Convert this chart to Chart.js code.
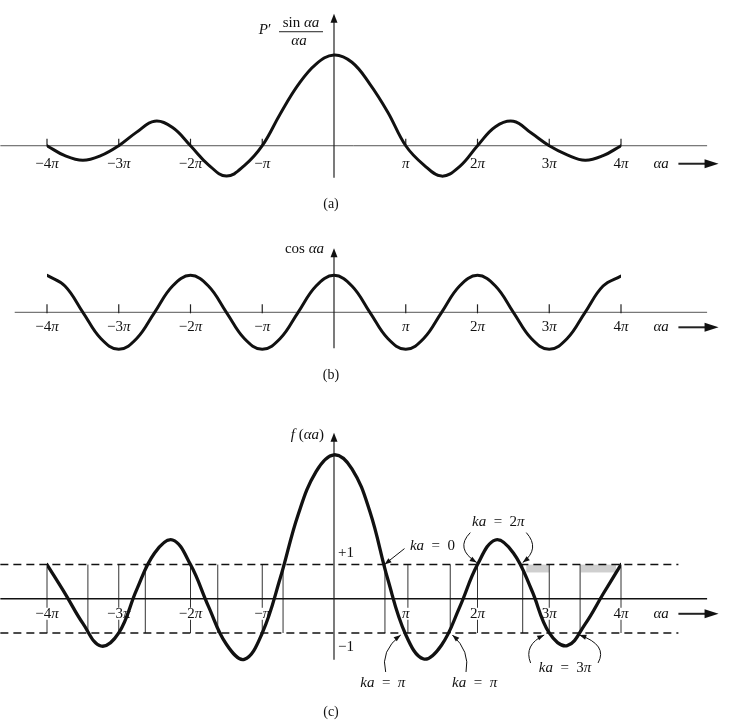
<!DOCTYPE html>
<html>
<head>
<meta charset="utf-8">
<script src="https://cdn.jsdelivr.net/npm/chart.js@4.4.0/dist/chart.umd.min.js"></script>
<style>
  html, body { margin: 0; padding: 0; background: #fff; }
  body { width: 732px; height: 724px; position: relative; overflow: hidden; }
  canvas { position: absolute; left: 0; }
</style>
</head>
<body>
<canvas id="chartA" width="732" height="222" style="top:0px"></canvas>
<canvas id="chartB" width="732" height="168" style="top:222px"></canvas>
<canvas id="chartC" width="732" height="324" style="top:400px"></canvas>
<script>
const PI = Math.PI;

// αa, in multiples of π
const alphaOverPi = [-4, -3.75, -3.5, -3.25, -3, -2.75, -2.5, -2.25, -2, -1.75, -1.5, -1.25, -1, -0.75, -0.5, -0.25, 0,
  0.25, 0.5, 0.75, 1, 1.25, 1.5, 1.75, 2, 2.25, 2.5, 2.75, 3, 3.25, 3.5, 3.75, 4];

// (a) P' sin(αa)/αa, as a fraction of P'
const sincTerm = [0, -0.11, -0.16, -0.11, 0, 0.15, 0.27, 0.2, 0, -0.21, -0.335, -0.22, 0, 0.35, 0.67, 0.9, 1,
  0.92, 0.68, 0.37, 0, -0.21, -0.335, -0.23, 0, 0.21, 0.27, 0.14, 0, -0.1, -0.16, -0.11, 0];

// (b) cos αa
const cosTerm = [1, 0.71, 0, -0.71, -1, -0.71, 0, 0.71, 1, 0.71, 0, -0.71, -1, -0.71, 0, 0.71, 1,
  0.71, 0, -0.71, -1, -0.71, 0, 0.71, 1, 0.71, 0, -0.71, -1, -0.71, 0, 0.71, 0.98];

// (c) f(αa)
const fTerm = [1, 0.16, -0.72, -1.38, -1, 0.27, 1.34, 1.72, 1, -0.22, -1.33, -1.77, -1, 0.6, 2.46, 3.72, 4.21,
  3.8, 2.55, 0.57, -1.05, -1.76, -1.35, -0.25, 1, 1.72, 1.34, 0.28, -1, -1.37, -0.74, 0.14, 1];

const tickAt = [-4, -3, -2, -1, 1, 2, 3, 4];
const tickText = ['−4π', '−3π', '−2π', '−π', 'π', '2π', '3π', '4π'];

// allowed bands (|f| <= 1), in multiples of π
const bandEdges = [[-4, -3.43], [-3, -2.63], [-2, -1.62], [-1, -0.71], [0.71, 1.03], [1.62, 2], [2.63, 3], [3.43, 4]];
const shadedBands = [[2.68, 3], [3.44, 3.93]];

const SERIF = '"Liberation Serif", "DejaVu Serif", serif';

function px(scale, t) { return scale.getPixelForValue(t * PI); }

function drawMath(ctx, text, x, y, size, align) {
  const parts = [];
  for (const ch of text) {
    const it = /[παakfP]/.test(ch);
    const last = parts[parts.length - 1];
    if (last && last.it === it) last.s += ch; else parts.push({ s: ch, it });
  }
  let w = 0;
  parts.forEach(p => {
    ctx.font = (p.it ? 'italic ' : '') + size + 'px ' + SERIF;
    p.w = ctx.measureText(p.s).width;
    w += p.w;
  });
  let cx = align === 'center' ? x - w / 2 : align === 'right' ? x - w : x;
  ctx.textAlign = 'left';
  ctx.textBaseline = 'middle';
  parts.forEach(p => {
    ctx.font = (p.it ? 'italic ' : '') + size + 'px ' + SERIF;
    ctx.fillText(p.s, cx, y);
    cx += p.w;
  });
  return w;
}

function arrowHead(ctx, x, y, ang, len, half) {
  ctx.beginPath();
  ctx.moveTo(x, y);
  ctx.lineTo(x - len * Math.cos(ang) - half * Math.sin(ang), y - len * Math.sin(ang) + half * Math.cos(ang));
  ctx.lineTo(x - len * Math.cos(ang) + half * Math.sin(ang), y - len * Math.sin(ang) - half * Math.cos(ang));
  ctx.closePath();
  ctx.fill();
}

function curl(ctx, sx, sy, cx, cy, ex, ey) {
  ctx.beginPath();
  ctx.moveTo(sx, sy);
  ctx.quadraticCurveTo(cx, cy, ex, ey);
  ctx.stroke();
  arrowHead(ctx, ex, ey, Math.atan2(ey - cy, ex - cx), 7, 2.6);
}

function panel(id, values, cfg) {
  const draw = {
    id: 'draw_' + id,
    beforeDatasetsDraw(chart) {
      const { ctx, scales: { x, y } } = chart;
      const x0 = x.getPixelForValue(0), y0 = y.getPixelForValue(0);
      ctx.save();
      ctx.fillStyle = '#111';
      ctx.strokeStyle = '#111';
      if (cfg.under) cfg.under(ctx, x, y);

      // horizontal axis
      ctx.strokeStyle = cfg.axisColor;
      ctx.lineWidth = cfg.axisWidth;
      ctx.beginPath();
      ctx.moveTo(px(x, cfg.axisSpan[0]), y0);
      ctx.lineTo(px(x, cfg.axisSpan[1]), y0);
      ctx.stroke();

      // vertical axis
      ctx.strokeStyle = '#222';
      ctx.fillStyle = '#111';
      ctx.lineWidth = 1.2;
      ctx.beginPath();
      ctx.moveTo(x0, y0 + cfg.yAxisDown);
      ctx.lineTo(x0, y0 - cfg.yAxisUp + 6);
      ctx.stroke();
      arrowHead(ctx, x0, y0 - cfg.yAxisUp, -PI / 2, 9, 3.5);

      // tick marks
      if (cfg.tickLen) {
        ctx.lineWidth = 1.2;
        tickAt.forEach(t => {
          ctx.beginPath();
          ctx.moveTo(px(x, t), y0 + 1);
          ctx.lineTo(px(x, t), y0 - cfg.tickLen);
          ctx.stroke();
        });
      }

      // tick labels
      tickAt.forEach((t, i) => {
        const lx = px(x, t), ly = y0 + cfg.labelDy;
        if (cfg.labelBg) {
          ctx.font = '15px ' + SERIF;
          const w = ctx.measureText(tickText[i]).width;
          ctx.fillStyle = '#fff';
          ctx.fillRect(lx - w / 2 - 1, ly - 6, w + 2, 12);
          ctx.fillStyle = '#111';
        }
        drawMath(ctx, tickText[i], lx, ly, 15, 'center');
      });

      // αa ──▶
      const ay = y0 + cfg.labelDy;
      drawMath(ctx, 'αa', px(x, 4.56), ay, 15, 'center');
      ctx.lineWidth = 2;
      ctx.beginPath();
      ctx.moveTo(px(x, 4.8), ay);
      ctx.lineTo(px(x, 5.2), ay);
      ctx.stroke();
      arrowHead(ctx, px(x, 5.36), ay, 0, 14, 4.5);

      // y label and panel caption
      cfg.yLabel(ctx, x0, y0);
      ctx.font = '14px ' + SERIF;
      ctx.textAlign = 'center';
      ctx.textBaseline = 'middle';
      ctx.fillText(cfg.caption, x0 - 3, y0 + cfg.captionDy);
      ctx.restore();
    },
    afterDatasetsDraw(chart) {
      if (!cfg.over) return;
      const { ctx, scales: { x, y } } = chart;
      ctx.save();
      ctx.fillStyle = '#111';
      ctx.strokeStyle = '#111';
      cfg.over(ctx, x, y);
      ctx.restore();
    }
  };

  return new Chart(document.getElementById(id), {
    type: 'line',
    data: {
      datasets: [{
        data: alphaOverPi.map((a, i) => ({ x: a * PI, y: values[i] })),
        borderColor: '#111',
        borderWidth: cfg.lineWidth,
        pointRadius: 0,
        tension: 0.4,
        borderCapStyle: 'round',
        borderJoinStyle: 'round',
        fill: false
      }]
    },
    options: {
      responsive: false,
      animation: false,
      devicePixelRatio: 1,
      layout: { padding: cfg.padding },
      plugins: { legend: { display: false }, tooltip: { enabled: false } },
      scales: {
        x: { type: 'linear', min: -4 * PI, max: 4 * PI, display: false },
        y: { min: cfg.yMin, max: cfg.yMax, display: false }
      }
    },
    plugins: [draw]
  });
}

// (a)
panel('chartA', sincTerm, {
  padding: { left: 47, right: 111, top: 10, bottom: 32 },
  yMin: -0.488, yMax: 1.496,
  lineWidth: 3,
  axisColor: '#555', axisWidth: 1, axisSpan: [-4.65, 5.2],
  yAxisUp: 132, yAxisDown: 32,
  tickLen: 7, labelDy: 18, captionDy: 59, caption: '(a)',
  yLabel(ctx, x0, y0) {
    drawMath(ctx, 'P′', x0 - 69, y0 - 116, 15, 'center');
    drawMath(ctx, 'sin αa', x0 - 33, y0 - 123, 15, 'center');
    ctx.lineWidth = 1;
    ctx.beginPath();
    ctx.moveTo(x0 - 55, y0 - 114);
    ctx.lineTo(x0 - 11, y0 - 114);
    ctx.stroke();
    drawMath(ctx, 'αa', x0 - 35, y0 - 105, 15, 'center');
  }
});

// (b)
panel('chartB', cosTerm, {
  padding: { left: 47, right: 111, top: 18, bottom: 28 },
  yMin: -1.343, yMax: 1.954,
  lineWidth: 3,
  axisColor: '#555', axisWidth: 1, axisSpan: [-4.45, 5.2],
  yAxisUp: 64, yAxisDown: 36,
  tickLen: 8, labelDy: 15, captionDy: 63, caption: '(b)',
  yLabel(ctx, x0, y0) {
    drawMath(ctx, 'cos αa', x0 - 10, y0 - 63, 15, 'right');
  }
});

// (c)
panel('chartC', fTerm, {
  padding: { left: 47, right: 111, top: 10, bottom: 34 },
  yMin: -2.667, yMax: 5.52,
  lineWidth: 3.3,
  axisColor: '#111', axisWidth: 1.6, axisSpan: [-4.65, 5.2],
  yAxisUp: 166, yAxisDown: 61,
  tickLen: 0, labelDy: 15, labelBg: true, captionDy: 114, caption: '(c)',
  under(ctx, x, y) {
    const yP = y.getPixelForValue(1), yM = y.getPixelForValue(-1);
    // shaded strips under +1
    ctx.fillStyle = '#cfcfcf';
    shadedBands.forEach(([a, b]) => {
      ctx.fillRect(px(x, a), yP, px(x, b) - px(x, a), y.getPixelForValue(0.77) - yP);
    });
    // band edges
    ctx.strokeStyle = '#333';
    ctx.lineWidth = 1;
    bandEdges.flat().forEach(t => {
      ctx.beginPath();
      ctx.moveTo(px(x, t), yP);
      ctx.lineTo(px(x, t), yM);
      ctx.stroke();
    });
    // ±1 dashed lines
    ctx.strokeStyle = '#111';
    ctx.lineWidth = 1.5;
    ctx.setLineDash([8, 5]);
    [yP, yM].forEach(yy => {
      ctx.beginPath();
      ctx.moveTo(px(x, -4.65), yy);
      ctx.lineTo(px(x, 4.8), yy);
      ctx.stroke();
    });
    ctx.setLineDash([]);
    ctx.fillStyle = '#111';
  },
  yLabel(ctx, x0, y0) {
    drawMath(ctx, 'f (αa)', x0 - 10, y0 - 164, 15, 'right');
  },
  over(ctx, x, y) {
    const x0 = x.getPixelForValue(0);
    const yP = y.getPixelForValue(1), yM = y.getPixelForValue(-1);
    drawMath(ctx, '+1', x0 + 12, yP - 12, 15, 'center');
    drawMath(ctx, '−1', x0 + 12, yM + 14, 15, 'center');
    ctx.lineWidth = 1;

    // ka = 0
    drawMath(ctx, 'ka  =  0', px(x, 0.69) + 49, yP - 19, 15, 'center');
    ctx.beginPath();
    ctx.moveTo(px(x, 0.69) + 21, yP - 16);
    ctx.lineTo(px(x, 0.69) + 2, yP - 1);
    ctx.stroke();
    arrowHead(ctx, px(x, 0.69) + 1, yP, Math.atan2(15, -19), 7, 2.6);

    // ka = 2π
    drawMath(ctx, 'ka  =  2π', px(x, 2.29), yP - 43, 15, 'center');
    curl(ctx, px(x, 1.9), yP - 32, px(x, 1.68), yP - 16, px(x, 1.99), yP - 2);
    curl(ctx, px(x, 2.68), yP - 32, px(x, 2.88), yP - 16, px(x, 2.63), yP - 2);

    // ka = π (twice)
    drawMath(ctx, 'ka  =  π', px(x, 0.68), yM + 50, 15, 'center');
    curl(ctx, px(x, 0.72), yM + 39, px(x, 0.64), yM + 18, px(x, 0.93), yM + 2);
    drawMath(ctx, 'ka  =  π', px(x, 1.96), yM + 50, 15, 'center');
    curl(ctx, px(x, 1.84), yM + 39, px(x, 1.9), yM + 18, px(x, 1.65), yM + 2);

    // ka = 3π
    drawMath(ctx, 'ka  =  3π', px(x, 3.22), yM + 35, 15, 'center');
    curl(ctx, px(x, 2.74), yM + 30, px(x, 2.64), yM + 12, px(x, 2.93), yM + 2);
    curl(ctx, px(x, 3.68), yM + 30, px(x, 3.82), yM + 12, px(x, 3.42), yM + 2);
  }
});
</script>
</body>
</html>
